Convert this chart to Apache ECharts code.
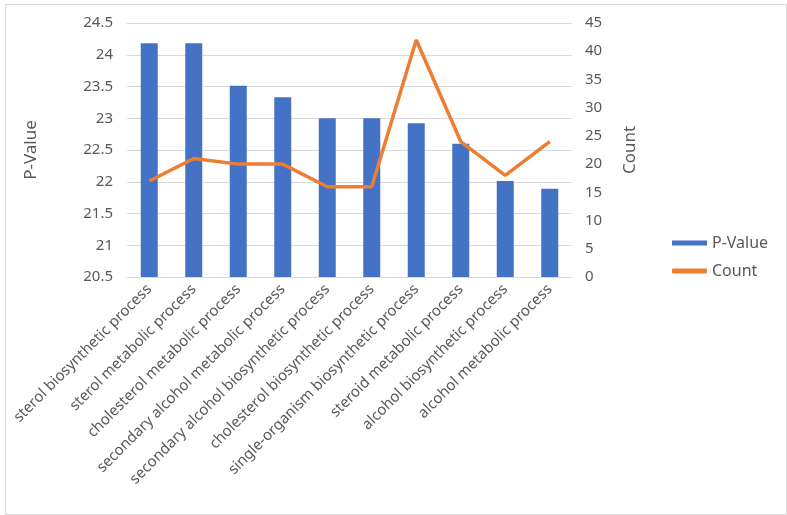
<!DOCTYPE html>
<html>
<head>
<meta charset="utf-8">
<script src="https://cdn.jsdelivr.net/npm/echarts@6/dist/echarts.min.js"></script>
<style>
html,body{margin:0;padding:0;background:#fff;}
#c{width:787px;height:515px;}
</style>
</head>
<body>
<div id="c"></div>
<script>
const categories = [
  'sterol biosynthetic process',
  'sterol metabolic process',
  'cholesterol metabolic process',
  'secondary alcohol metabolic process',
  'secondary alcohol biosynthetic process',
  'cholesterol biosynthetic process',
  'single-organism biosynthetic process',
  'steroid metabolic process',
  'alcohol biosynthetic process',
  'alcohol metabolic process'
];
const pValues = [24.18, 24.18, 23.51, 23.33, 23.0, 23.0, 22.92, 22.6, 22.01, 21.89];
const counts = [17, 21, 20, 20, 16, 16, 42, 24, 18, 24];
const leftTicks = {min: 20.5, max: 24.5, interval: 0.5};
const rightTicks = {min: 0, max: 45, interval: 5};

const font = 'Noto Sans';
const gray = '#595959';
const chart = echarts.init(document.getElementById('c'));
chart.setOption({
  animation: false,
  textStyle: {fontFamily: font},
  graphic: [{
    type: 'rect', left: 3, top: 2, shape: {width: 781, height: 510},
    style: {fill: 'none', stroke: '#D9D9D9', lineWidth: 1}
  }],
  grid: {left: 127, right: 215, top: 23, bottom: 238},
  legend: {
    orient: 'vertical', left: 667, top: 230, itemGap: 12,
    itemWidth: 35, itemHeight: 5,
    textStyle: {color: gray, fontSize: 16, fontFamily: font},
    data: [{name: 'P-Value', icon: 'rect'}, {name: 'Count', icon: 'roundRect'}]
  },
  xAxis: {
    type: 'category', data: categories,
    axisLine: {lineStyle: {color: '#D9D9D9'}},
    axisTick: {show: false},
    axisLabel: {rotate: 45, interval: 0, color: gray, fontSize: 15, margin: 10, fontFamily: font}
  },
  yAxis: [{
    type: 'value', min: leftTicks.min, max: leftTicks.max, interval: leftTicks.interval,
    name: 'P-Value', nameLocation: 'middle', nameRotate: 90, nameGap: 87,
    nameTextStyle: {color: gray, fontSize: 17, fontFamily: font},
    axisLine: {show: false}, axisTick: {show: false},
    axisLabel: {color: gray, fontSize: 15, margin: 14, fontFamily: font},
    splitLine: {lineStyle: {color: '#D9D9D9'}}
  }, {
    type: 'value', min: rightTicks.min, max: rightTicks.max, interval: rightTicks.interval,
    name: 'Count', nameLocation: 'middle', nameRotate: 90, nameGap: 50,
    nameTextStyle: {color: gray, fontSize: 17, fontFamily: font},
    axisLine: {show: false}, axisTick: {show: false},
    axisLabel: {color: gray, fontSize: 15, margin: 13, fontFamily: font},
    splitLine: {show: false}
  }],
  series: [{
    name: 'P-Value', type: 'bar', data: pValues, barWidth: 17,
    itemStyle: {color: '#4472C4'}
  }, {
    name: 'Count', type: 'line', yAxisIndex: 1, data: counts,
    symbol: 'none', lineStyle: {color: '#ED7D31', width: 3.5},
    itemStyle: {color: '#ED7D31'}
  }]
});
</script>
</body>
</html>
